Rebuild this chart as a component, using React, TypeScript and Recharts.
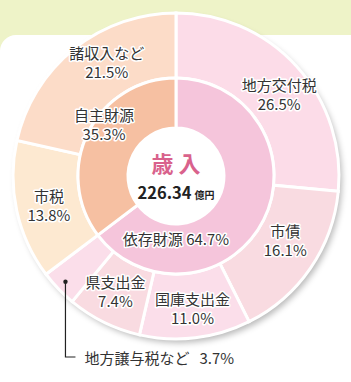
import { PieChart, Pie, Cell } from "recharts"

const outerNames = ["地方交付税", "市債", "国庫支出金", "県支出金", "地方譲与税など", "市税", "諸収入など"]
const outerValues = [26.5, 16.1, 11.0, 7.4, 3.7, 13.8, 21.5]
const innerNames = ["依存財源", "自主財源"]
const innerValues = [64.7, 35.3]
const totalLabel = "226.34"
const totalUnit = "億円"
const title = "歳 入"

const outerColors = ["#fcdce8", "#f9dbe1", "#fbdeea", "#f9dbe1", "#fbdeea", "#fde9d1", "#fcdcc8"]
const innerColors = ["#f5c5db", "#f6c0a2"]

// small nudges so labels sit like the original
const outerNudge: Record<string, [number, number]> = {
  "地方交付税": [7, 5],
  "市債": [2, -9],
  "国庫支出金": [1, 3],
  "県支出金": [-3, -2],
  "市税": [0, 1],
  "諸収入など": [12, -13],
}

const outerData = outerNames.map((name, i) => ({ name, value: outerValues[i] }))
const innerData = innerNames.map((name, i) => ({ name, value: innerValues[i] }))

const FONT = "'Noto Sans CJK JP', 'Noto Sans', sans-serif"
const RAD = Math.PI / 180
const CX = 176
const CY = 176
const R_OUT = 163

const textStyle = {
  fontFamily: FONT,
  fontSize: 15,
  fill: "#333",
  stroke: "#fff",
  strokeWidth: 3,
  paintOrder: "stroke" as const,
  strokeLinejoin: "round" as const,
}

function polar(cx: number, cy: number, r: number, angle: number) {
  return [cx + r * Math.cos(-angle * RAD), cy + r * Math.sin(-angle * RAD)]
}

const renderOuterLabel = (props: any) => {
  const { cx, cy, midAngle, name, value } = props
  if (name === "地方譲与税など") {
    const [dx, dy] = polar(cx, cy, 153, midAngle)
    const ly = cy + 181
    return (
      <g>
        <circle cx={dx} cy={dy} r={2.2} fill="#222" />
        <polyline points={`${dx},${dy} ${dx},${ly} ${dx + 10},${ly}`} fill="none" stroke="#222" strokeWidth={1.2} />
        <text x={dx + 19} y={ly} dominantBaseline="central" style={textStyle}>
          {name}
          <tspan dx={10}>{value.toFixed(1)}%</tspan>
        </text>
      </g>
    )
  }
  const [x0, y0] = polar(cx, cy, 130, midAngle)
  const nudge = outerNudge[name] || [0, 0]
  const x = x0 + nudge[0]
  const y = y0 + nudge[1]
  return (
    <g>
      <text x={x} y={y - 9.5} textAnchor="middle" dominantBaseline="central" style={textStyle}>{name}</text>
      <text x={x} y={y + 9.5} textAnchor="middle" dominantBaseline="central" style={textStyle}>{value.toFixed(1)}%</text>
    </g>
  )
}

const renderInnerLabel = (props: any) => {
  const { cx, cy, name, value } = props
  if (name === "依存財源") {
    const [x, y] = polar(cx, cy, 62, 270)
    return (
      <text x={x} y={y} textAnchor="middle" dominantBaseline="central" style={textStyle}>
        {name} {value.toFixed(1)}%
      </text>
    )
  }
  const [x, y] = polar(cx, cy, 89, 144)
  return (
    <g>
      <text x={x} y={y - 9.5} textAnchor="middle" dominantBaseline="central" style={textStyle}>{name}</text>
      <text x={x} y={y + 9.5} textAnchor="middle" dominantBaseline="central" style={textStyle}>{value.toFixed(1)}%</text>
    </g>
  )
}

export default function App() {
  return (
    <div style={{ position: "absolute", left: 0, top: 0, width: 351, height: 382, background: "#eef3c8", overflow: "hidden" }}>
      <div style={{ position: "absolute", left: 0, top: 35, width: 351, height: 347, background: "#fff", borderTopLeftRadius: 16 }} />
      <div
        style={{
          position: "absolute",
          left: CX - R_OUT,
          top: CY - R_OUT,
          width: R_OUT * 2,
          height: R_OUT * 2,
          borderRadius: "50%",
          boxShadow: "3px 4px 6px rgba(0,0,0,0.28)",
        }}
      />
      <div style={{ position: "absolute", left: 0, top: 0 }}>
        <PieChart width={351} height={382} margin={{ top: 0, right: 0, bottom: 0, left: 0 }}>
          <Pie
            data={outerData}
            dataKey="value"
            nameKey="name"
            cx={CX}
            cy={CY}
            innerRadius={98}
            outerRadius={R_OUT}
            startAngle={90}
            endAngle={-270}
            stroke="#fff"
            strokeWidth={3}
            label={renderOuterLabel}
            labelLine={false}
            isAnimationActive={false}
          >
            {outerData.map((d, i) => (
              <Cell key={d.name} fill={outerColors[i]} />
            ))}
          </Pie>
          <Pie
            data={innerData}
            dataKey="value"
            nameKey="name"
            cx={CX}
            cy={CY}
            innerRadius={48}
            outerRadius={98}
            startAngle={90}
            endAngle={-270}
            stroke="#fff"
            strokeWidth={3}
            label={renderInnerLabel}
            labelLine={false}
            isAnimationActive={false}
          >
            {innerData.map((d, i) => (
              <Cell key={d.name} fill={innerColors[i]} />
            ))}
          </Pie>
        </PieChart>
      </div>
      <div
        style={{
          position: "absolute",
          left: CX - 50,
          top: CY - 28,
          width: 100,
          textAlign: "center",
          fontFamily: FONT,
          fontWeight: 700,
          fontSize: 22,
          lineHeight: "28px",
          color: "#d9628c",
          whiteSpace: "pre",
        }}
      >
        {title}
      </div>
      <div
        style={{
          position: "absolute",
          left: CX - 50,
          top: CY + 5,
          width: 100,
          textAlign: "center",
          fontFamily: FONT,
          fontWeight: 700,
          color: "#222",
          lineHeight: "22px",
          whiteSpace: "nowrap",
        }}
      >
        <span style={{ fontSize: 16.5 }}>{totalLabel}</span>
        <span style={{ fontSize: 10, marginLeft: 3 }}>{totalUnit}</span>
      </div>
    </div>
  )
}
